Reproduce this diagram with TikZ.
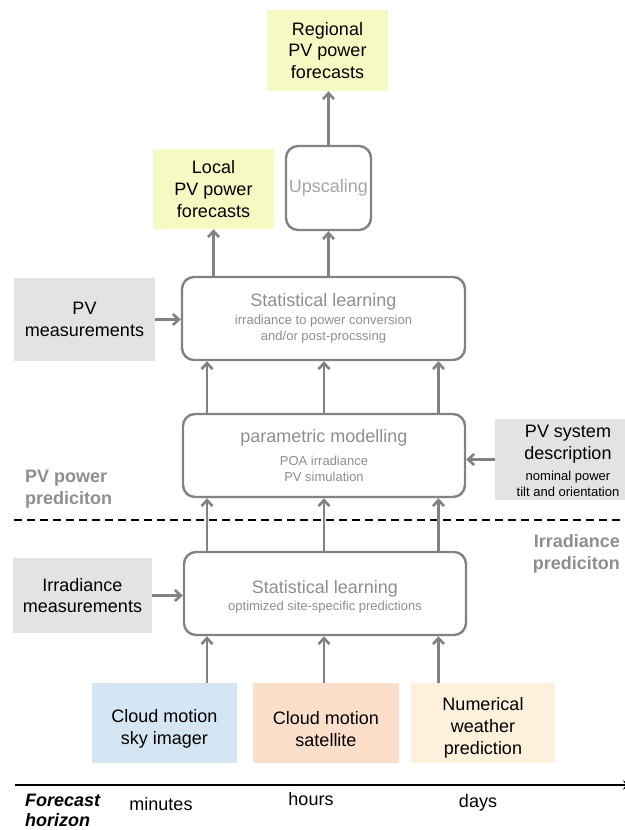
\documentclass[tikz,border=0pt]{standalone}
\usepackage{fontspec}
\setmainfont{Liberation Sans}
\usetikzlibrary{calc,positioning,arrows.meta}

\definecolor{linegray}{HTML}{828282}
\definecolor{txtgray}{HTML}{8E8E8E}
\definecolor{measgray}{HTML}{E2E3E2}
\definecolor{outyellow}{HTML}{F6FAC2}
\definecolor{skyblue}{HTML}{D4E5F3}
\definecolor{satpeach}{HTML}{FBDFCB}
\definecolor{nwpcream}{HTML}{FEF0DA}

\def\bigfs{\fontsize{18}{21.7}\selectfont}
\def\smallfs{\fontsize{13}{16}\selectfont}

\tikzset{
	stepbox/.style={draw=linegray, line width=2.4pt, rounded corners=12pt, inner sep=0pt},
	fillbox/.style={inner sep=0pt, align=center, font=\bigfs},
	titletxt/.style={inner sep=0pt, text=txtgray, font=\bigfs},
	subtxt/.style={inner sep=0pt, text=txtgray, align=center, font=\smallfs},
	flow/.style={draw=linegray, line width=2.6pt, -{Straight Barb[length=6pt,width=11pt]}},
	sidelbl/.style={inner sep=0pt, text=txtgray, font=\bigfs\bfseries}
}

\begin{document}
\begin{tikzpicture}[x=1pt, y=-1pt]
			%%%%% START %%%%%
			\useasboundingbox (0,0) rectangle (624,830);

			% outputs
			\node[fillbox, fill=outyellow, minimum width=121pt, minimum height=81pt] (regional) at (327.5,50.5) {Regional\\PV power\\forecasts};
			\node[fillbox, fill=outyellow, minimum width=121pt, minimum height=80pt] (local) at (213.5,189) {Local\\PV power\\forecasts};
			\node[stepbox, minimum width=85pt, minimum height=84pt] (upscale) at (328.5,188) {};
			\node[titletxt, text=txtgray!80] (upscaleT) at (upscale) {Upscaling};

			% power part
			\node[stepbox, minimum width=283pt, minimum height=83pt] (slup) at (323.5,318.5) {};
			\node[titletxt] (slupT) at (323.5,302) {Statistical learning};
			\node[subtxt] (slupS) at (323.5,329) {irradiance to power conversion\\and/or post-procssing};
			\node[fillbox, fill=measgray, minimum width=141pt, minimum height=83pt] (pvmeas) at (84.5,319.5) {PV\\measurements};

			\node[stepbox, minimum width=282pt, minimum height=83pt] (param) at (324,455.5) {};
			\node[titletxt] (paramT) at (324,438) {parametric modelling};
			\node[subtxt] (paramS) at (324,468.5) {POA irradiance\\PV simulation};
			\node[fill=measgray, inner sep=0pt, minimum width=131pt, minimum height=81pt] (pvsys) at (560.5,459.5) {};
			\node[inner sep=0pt, font=\bigfs, align=center] (pvsysT) at (568,444) {PV system\\description};
			\node[inner sep=0pt, font=\smallfs, align=center] (pvsysS) at (568,483.5) {nominal power\\tilt and orientation};

			% split between the two parts
			\coordinate (dashL) at (14,520);
			\coordinate (dashR) at (624,520);
			\draw[line width=1.2pt, dash pattern=on 8pt off 5pt] (dashL) -- (dashR);
			\node[sidelbl, anchor=west, align=left] (pvlbl) at (25,489) {PV power\\prediciton};
			\node[sidelbl, anchor=east, align=right] (irrlbl) at (620,554) {Irradiance\\prediciton};

			% irradiance part
			\node[stepbox, minimum width=282pt, minimum height=83pt] (sllow) at (325,593.5) {};
			\node[titletxt] (sllowT) at (325,589) {Statistical learning};
			\node[subtxt] (sllowS) at (325,607) {optimized site-specific predictions};
			\node[fillbox, fill=measgray, minimum width=139pt, minimum height=75pt] (irrmeas) at (82.5,595.5) {Irradiance\\measurements};

			\node[fill=skyblue, inner sep=0pt, minimum width=145pt, minimum height=80pt] (sky) at (164.5,723) {};
			\node[fillbox] (skyT) at (164.5,729) {Cloud motion\\sky imager};
			\node[fill=satpeach, inner sep=0pt, minimum width=146pt, minimum height=80pt] (sat) at (326,723) {};
			\node[fillbox] (satT) at (326,729) {Cloud motion\\satellite};
			\node[fill=nwpcream, inner sep=0pt, minimum width=144pt, minimum height=80pt] (nwp) at (483,723) {};
			\node[fillbox] (nwpT) at (483,728) {Numerical\\weather\\prediction};

			% columns
			\coordinate (c1) at (207,0);
			\coordinate (c2) at (324,0);
			\coordinate (c3) at (438.5,0);

			\draw[flow] (upscale.north) -- (upscale.north |- regional.south);
			\draw[flow] (slup.north -| local.south) -- (local.south);
			\draw[flow] (slup.north -| upscale.south) -- (upscale.south);
			\draw[flow] (pvmeas.east) -- (pvmeas.east -| slup.west);
			\draw[flow] (pvsys.west) -- (pvsys.west -| param.east);
			\draw[flow] (irrmeas.east) -- (irrmeas.east -| sllow.west);
			\foreach \c in {c1,c2,c3} {
				\draw[flow] (param.north -| \c) -- (slup.south -| \c);
				\draw[flow] (sllow.north -| \c) -- (param.south -| \c);
			}
			\draw[flow] (sky.north -| c1) -- (sllow.south -| c1);
			\draw[flow] (sat.north -| c2) -- (sllow.south -| c2);
			\draw[flow] (nwp.north -| c3) -- (sllow.south -| c3);

			% time axis
			\coordinate (axL) at (15,785);
			\coordinate (axR) at (632,785);
			\draw[line width=2.5pt, -{Stealth[length=9pt,width=9pt]}] (axL) -- (axR);
			\node[inner sep=0pt, anchor=west, align=left, font=\fontsize{18}{20}\selectfont\bfseries\itshape] (fhlbl) at (25,810) {Forecast\\horizon};
			\node[inner sep=0pt, font=\bigfs] (minlbl) at (161,804) {minutes};
			\node[inner sep=0pt, font=\bigfs] (hourlbl) at (311,799) {hours};
			\node[inner sep=0pt, font=\bigfs] (daylbl) at (478,803) {days};
			%%%%% END %%%%%
\end{tikzpicture}
\end{document}
